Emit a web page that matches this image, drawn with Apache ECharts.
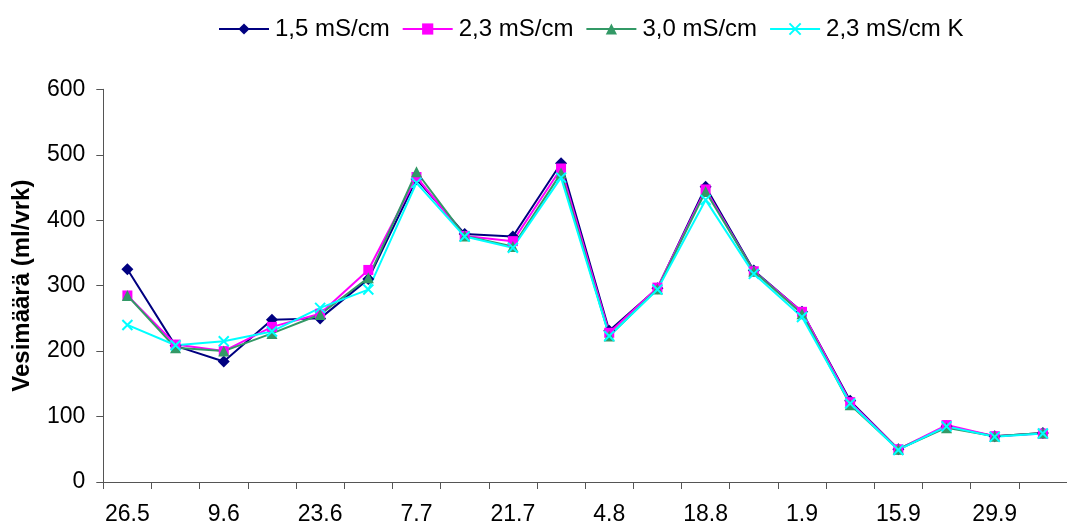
<!DOCTYPE html>
<html><head><meta charset="utf-8">
<script src="https://cdn.jsdelivr.net/npm/echarts@6/dist/echarts.min.js"></script>
<style>html,body{margin:0;padding:0;background:#fff}#c{width:1067px;height:526px}</style>
</head><body><div id="c"></div>
<script>
const categories = ['26.5','2.6','9.6','16.6','23.6','30.6','7.7','14.7','21.7','28.7','4.8','11.8','18.8','25.8','1.9','8.9','15.9','22.9','29.9','6.10'];
const s15 = [325,208,184,248,250,310,463,379,375,487,231,296,451,323,260,124,50,85,70,75];
const s23 = [285,210,200,237,257,324,466,376,368,479,228,297,447,322,260,122,50,87,70,74];
const s30 = [285,205,200,227,256,312,474,376,360,472,223,295,444,322,257,118,50,83,70,75];
const s23K = [240,209,215,230,266,294,457,375,358,465,223,294,431,318,252,120,49,85,69,74];
const names = ['1,5 mS/cm','2,3 mS/cm','3,0 mS/cm','2,3 mS/cm K'];
const yTicks = {min:0, max:600, interval:100};

const chart = echarts.init(document.getElementById('c'));
const font = '"Liberation Sans", Arial, sans-serif';
function ser(name, data, color, symbol, size){
  return {name, type:'line', data, symbol, symbolSize:size,
    lineStyle:{color, width:2}, itemStyle:{color, borderColor:color, borderWidth: symbol.startsWith('path')?2:0},
    emphasis:{disabled:true}, animation:false};
}
chart.setOption({
  animation:false,
  textStyle:{fontFamily:font},
  legend:{top:17, left:218, padding:0, itemWidth:50, itemHeight:14, itemGap:12,
    textStyle:{fontSize:24, color:'#000', fontFamily:font, padding:[0,0,0,1]},
    data:names},
  grid:{left:103.3, right:-9.4, top:89.3, bottom:42, containLabel:false},
  xAxis:{type:'category', data:categories, boundaryGap:true,
    axisLine:{lineStyle:{color:'#555', width:1}},
    axisTick:{show:true, length:7, alignWithLabel:false, interval:0, lineStyle:{color:'#555'}},
    axisLabel:{interval:1, fontSize:23, color:'#000', margin:21, fontFamily:font},
    splitLine:{show:false}},
  yAxis:{type:'value', min:yTicks.min, max:yTicks.max, interval:yTicks.interval,
    name:'Vesimäärä (ml/vrk)', nameLocation:'middle', nameGap:69,
    nameTextStyle:{fontSize:24, fontWeight:'bold', color:'#000', fontFamily:font},
    axisLine:{show:true, lineStyle:{color:'#555', width:1}},
    axisTick:{show:true, length:7, lineStyle:{color:'#555'}},
    axisLabel:{fontSize:23, color:'#000', margin:18, fontFamily:font},
    splitLine:{show:false}},
  series:[
    ser(names[0], s15, '#000080', 'diamond', 12),
    ser(names[1], s23, '#FF00FF', 'rect', 10),
    ser(names[2], s30, '#339966', 'triangle', 11),
    ser(names[3], s23K, '#00FFFF', 'path://M0 0L10 10M10 0L0 10', 10)
  ]
});
</script></body></html>
